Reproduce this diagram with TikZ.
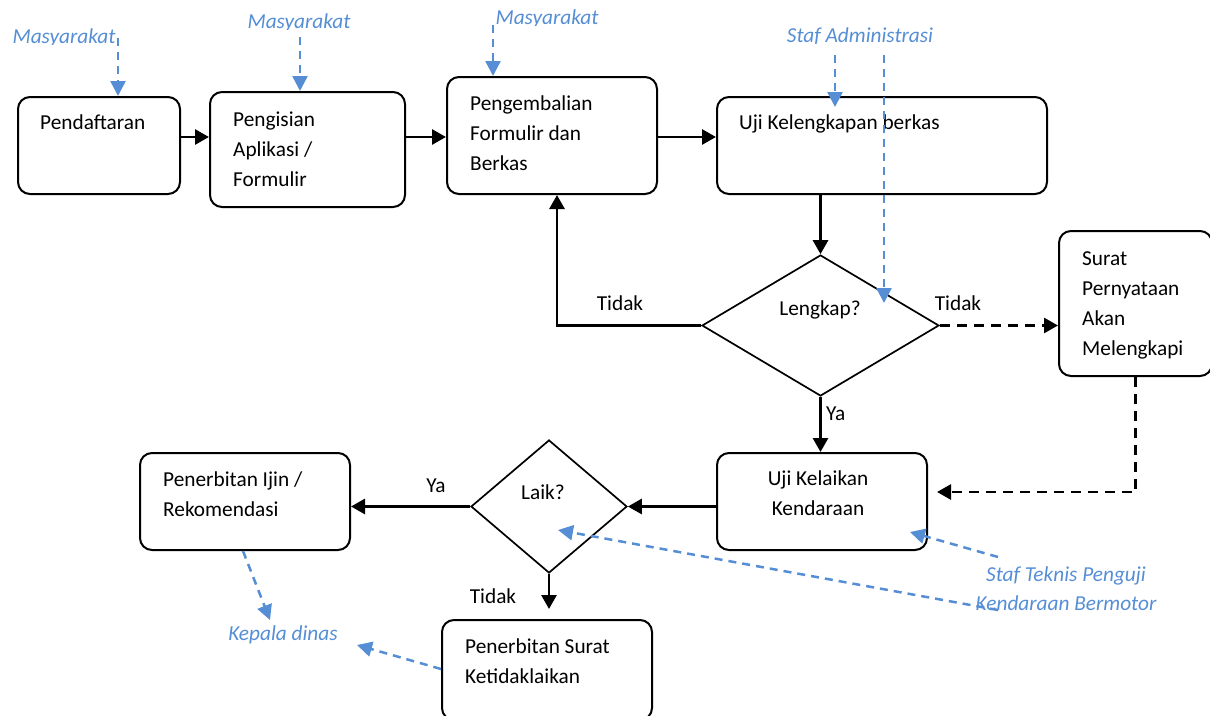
\documentclass[tikz,border=0pt]{standalone}
\usepackage{fontspec}
\setmainfont{Carlito}
\usetikzlibrary{arrows.meta,shapes.geometric}
\definecolor{lblue}{RGB}{85,142,213}
\begin{document}
\begin{tikzpicture}[x=1pt,y=-1pt,
  box/.style={draw,line width=2pt,rounded corners=12pt,inner sep=0pt,anchor=north west},
  dia/.style={draw,line width=1.7pt,diamond,inner sep=0pt},
  txt/.style={font=\fontsize{21.3}{30}\selectfont,inner sep=0pt,align=left,anchor=base west},
  lbl/.style={font=\fontsize{21.3}{30}\selectfont,inner sep=0pt,anchor=base},
  btxt/.style={font=\fontsize{21.3}{29}\selectfont\itshape,text=lblue,inner sep=0pt,anchor=base,align=center},
  flow/.style={line width=2.8pt,-{Triangle[width=15pt,length=14pt]}},
  dflow/.style={flow,dash pattern=on 10pt off 7pt},
  bflow/.style={lblue,line width=2.5pt,dash pattern=on 8pt off 6pt,-{Triangle[width=15pt,length=15pt]}},
]
\useasboundingbox (0,0) rectangle (1210,715);

% boxes
\node[box,minimum width=162pt,minimum height=97pt] (pend) at (17,96) {};
\node[box,minimum width=195pt,minimum height=115pt] (isi) at (209,91) {};
\node[box,minimum width=210pt,minimum height=117pt] (kemb) at (446,76) {};
\node[box,minimum width=330pt,minimum height=97pt] (ujk) at (716,96) {};
\node[box,minimum width=153pt,minimum height=145pt] (surat) at (1058,230) {};
\node[box,minimum width=210pt,minimum height=97pt] (kel) at (716,452) {};
\node[box,minimum width=210pt,minimum height=97pt] (ijin) at (139,452) {};
\node[box,minimum width=210pt,minimum height=100pt] (tl) at (441,619) {};

% diamonds
\node[dia,minimum width=237pt,minimum height=141pt,aspect=1.68] (lengkap) at (820.5,325.5) {};
\node[dia,minimum width=156pt,minimum height=133pt,aspect=1.17] (laik) at (549,506.5) {};

% texts (multi-line nodes: base = last line)
\node[txt] (tpend) at (40,129) {Pendaftaran};
\node[txt] (tisi) at (233,186) {Pengisian\\Aplikasi /\\Formulir};
\node[txt] (tkemb) at (470,170) {Pengembalian\\Formulir dan\\Berkas};
\node[txt] (tujk) at (739,129) {Uji Kelengkapan berkas};
\node[lbl] (tlengkap) at (820,315) {Lengkap?};
\node[txt] (tsurat) at (1082,355) {Surat\\Pernyataan\\Akan\\Melengkapi};
\node[lbl,align=center] (tkel) at (818,515) {Uji Kelaikan\\Kendaraan};
\node[lbl] (tlaik) at (543,499) {Laik?};
\node[txt] (tijin) at (163,516) {Penerbitan Ijin /\\Rekomendasi};
\node[txt] (ttl) at (465,683) {Penerbitan Surat\\Ketidaklaikan};

% edge labels (bottoms cut as in the reference)
\begin{scope}\clip (580,280) rectangle (670,312);
\node[lbl] (tidak1) at (620,310) {Tidak};\end{scope}
\begin{scope}\clip (920,280) rectangle (1000,312);
\node[lbl] (tidak2) at (958,310) {Tidak};\end{scope}
\begin{scope}\clip (824,395) rectangle (860,421);
\node[lbl,anchor=base west] (ya1) at (826,420) {Ya};\end{scope}
\begin{scope}\clip (415,465) rectangle (460,494);
\node[lbl] (ya2) at (436,492) {Ya};\end{scope}
\begin{scope}\clip (460,575) rectangle (530,605);
\node[lbl] (tidak3) at (493,603) {Tidak};\end{scope}

% blue labels
\begin{scope}\clip (0,0) rectangle (130,44);
\node[btxt] (m1) at (64,43) {Masyarakat};\end{scope}
\begin{scope}\clip (240,0) rectangle (360,29);
\node[btxt] (m2) at (299,28) {Masyarakat};\end{scope}
\begin{scope}\clip (490,0) rectangle (610,25);
\node[btxt] (m3) at (547,24) {Masyarakat};\end{scope}
\begin{scope}\clip (780,0) rectangle (945,43);
\node[btxt] (sa) at (860,42) {Staf Administrasi};\end{scope}
\node[btxt] (st) at (1066,610) {Staf Teknis Penguji\\Kendaraan Bermotor};
\node[btxt] (kd) at (283,640) {Kepala dinas};

% black flow
\draw[flow] (pend.east |- 0,137) -- (isi.west |- 0,137);
\draw[flow] (isi.east |- 0,137) -- (kemb.west |- 0,137);
\draw[flow] (kemb.east |- 0,137) -- (ujk.west |- 0,137);
\draw[flow] (ujk.south -| lengkap.north) -- (lengkap.north);
\draw[flow] (lengkap.west) -| ([xshift=5pt]kemb.south);
\draw[dflow] (lengkap.east) -- (surat.west |- lengkap.east);
\draw[flow] (lengkap.south) -- (kel.north -| lengkap.south);
\coordinate (kelin) at (937,492);
\draw[dflow] (surat.south) |- (kelin);
\draw[flow] (kel.west |- laik.east) -- (laik.east);
\draw[flow] (laik.west) -- (ijin.east |- laik.west);
\draw[flow,shorten >=10pt] (laik.south) -- (tl.north -| laik.south);

% blue flow
\coordinate (m1s) at (118,38);
\coordinate (m2s) at (300,37);
\coordinate (m3s) at (493,25);
\coordinate (sa1s) at (835,55);
\coordinate (sa1e) at (835,107);
\coordinate (sa2s) at (884,55);
\coordinate (sa2e) at (884,303);
\coordinate (st1s) at (998,557);
\coordinate (st1e) at (910,532);
\coordinate (st2s) at (998,610);
\coordinate (st2e) at (558,530);
\coordinate (kd1e) at (270,620);
\coordinate (kd2s) at (441,669);
\coordinate (kd2e) at (357,645);
\draw[bflow] (m1s) -- (pend.north -| m1s);
\draw[bflow] (m2s) -- (isi.north -| m2s);
\draw[bflow] (m3s) -- (kemb.north -| m3s);
\draw[bflow] (sa1s) -- (sa1e);
\draw[bflow] (sa2s) -- (sa2e);
\draw[bflow] (st1s) -- (st1e);
\draw[bflow] (st2s) -- (st2e);
\draw[bflow] ([xshift=-2pt]ijin.south) -- (kd1e);
\draw[bflow] (kd2s) -- (kd2e);
\end{tikzpicture}
\end{document}
